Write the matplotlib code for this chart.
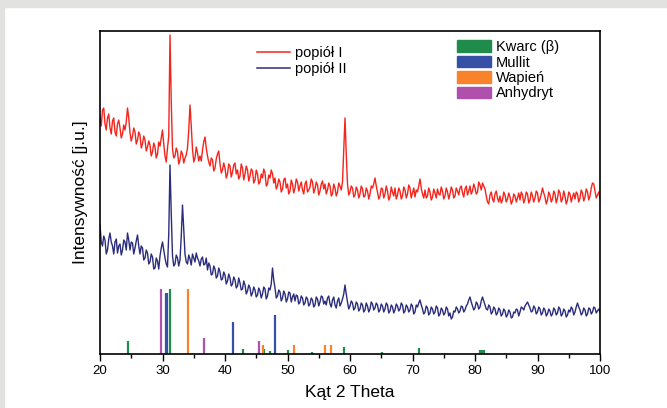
import numpy as np
import matplotlib
matplotlib.use('Agg')
import matplotlib.pyplot as plt
from matplotlib.patches import Patch, Rectangle
from matplotlib.lines import Line2D

plt.rcParams['font.family'] = ['Liberation Sans', 'DejaVu Sans']

# 2 theta grid, 0.2 deg step
two_theta = np.round(np.arange(20.0, 100.001, 0.2), 1)

# popiol I (red) at 20.0, 20.4, ... 100.0 (4 deg per row)
popiol_1_even = [
    238, 244, 230, 236, 226, 233, 222, 230, 226, 220,
    224, 246, 221, 218, 222, 214, 219, 210, 214, 207,
    209, 202, 207, 200, 208, 224, 198, 206, 319, 205,
    198, 202, 194, 200, 196, 206, 249, 205, 196, 201,
    198, 204, 217, 198, 188, 194, 186, 200, 190, 184,
    186, 180, 188, 182, 191, 184, 178, 186, 180, 184,
    178, 183, 174, 180, 172, 176, 181, 170, 176, 180,
    176, 168, 172, 165, 176, 170, 163, 170, 166, 172,
    168, 164, 170, 162, 167, 172, 165, 169, 163, 173,
    170, 164, 168, 160, 166, 162, 168, 172, 236, 170,
    162, 166, 159, 164, 160, 165, 158, 163, 160, 166,
    176, 162, 158, 165, 160, 163, 157, 162, 166, 159,
    163, 158, 164, 160, 166, 161, 157, 162, 175, 160,
    164, 158, 162, 157, 161, 165, 159, 163, 158, 162,
    160, 164, 158, 163, 166, 161, 165, 159, 168, 163,
    166, 162, 169, 171, 165, 152, 159, 155, 160, 156,
    158, 154, 159, 155, 157, 153, 158, 156, 154, 159,
    155, 160, 154, 158, 156, 161, 155, 166, 157, 154,
    159, 155, 160, 156, 161, 155, 158, 154, 160, 157,
    155, 160, 156, 161, 157, 162, 158, 171, 163, 159,
    156,
]
# popiol I at 20.2, 20.6, ... 99.8
popiol_1_odd = [
    228, 246, 224, 240, 220, 236, 218, 234, 216, 229,
    232, 236, 213, 226, 210, 222, 206, 218, 203, 213,
    198, 211, 196, 212, 216, 210, 192, 218, 252, 196,
    206, 190, 203, 191, 199, 224, 228, 192, 207, 193,
    193, 212, 206, 192, 196, 183, 195, 203, 181, 191,
    176, 190, 177, 189, 180, 175, 190, 174, 188, 173,
    185, 171, 184, 170, 180, 185, 168, 179, 184, 171,
    165, 175, 162, 174, 166, 160, 174, 161, 175, 163,
    172, 160, 173, 164, 175, 161, 172, 159, 170, 165,
    160, 171, 158, 170, 158, 171, 164, 205, 200, 159,
    168, 157, 167, 156, 168, 157, 166, 155, 168, 170,
    168, 155, 166, 156, 168, 154, 167, 158, 155, 166,
    155, 167, 156, 169, 156, 166, 164, 168, 166, 156,
    156, 166, 154, 165, 156, 160, 167, 155, 166, 155,
    167, 156, 166, 159, 168, 157, 168, 163, 160, 170,
    160, 172, 164, 168, 158, 150, 162, 152, 163, 152,
    151, 162, 152, 161, 150, 160, 152, 161, 162, 151,
    162, 151, 162, 152, 163, 152, 160, 161, 150, 162,
    152, 163, 151, 164, 152, 163, 150, 162, 152, 161,
    162, 152, 164, 153, 165, 154, 166, 170, 156, 162,
]

# popiol II (navy) at 20.0, 20.4, ... 100.0
popiol_2_even = [
    129, 108, 114, 104, 121, 108, 112, 101, 110, 104,
    112, 121, 104, 111, 106, 119, 100, 106, 96, 101,
    92, 97, 86, 93, 98, 112, 96, 87, 189, 98,
    90, 96, 94, 149, 100, 90, 95, 100, 92, 96,
    88, 97, 90, 84, 88, 80, 85, 78, 82, 75,
    79, 73, 76, 70, 74, 68, 71, 65, 69, 63,
    66, 61, 64, 59, 63, 60, 65, 58, 64, 86,
    66, 58, 62, 56, 60, 55, 61, 57, 53, 58,
    52, 56, 51, 55, 50, 54, 49, 55, 52, 57,
    53, 56, 50, 54, 49, 53, 48, 55, 69, 52,
    48, 51, 46, 50, 45, 49, 44, 48, 45, 50,
    46, 49, 44, 48, 45, 49, 43, 47, 44, 48,
    45, 49, 43, 47, 44, 48, 42, 47, 54, 45,
    42, 46, 41, 45, 42, 46, 40, 44, 41, 45,
    41, 37, 42, 45, 43, 47, 44, 50, 57, 48,
    46, 50, 47, 57, 49, 44, 47, 42, 45, 41,
    44, 40, 43, 39, 42, 37, 41, 44, 42, 46,
    48, 52, 46, 43, 46, 42, 45, 41, 44, 40,
    43, 40, 44, 41, 45, 40, 43, 39, 42, 45,
    42, 51, 44, 41, 44, 40, 45, 42, 46, 43,
    42,
]
# popiol II at 20.2, 20.6, ... 99.8
popiol_2_odd = [
    112, 118, 100, 115, 112, 100, 115, 108, 99, 114,
    104, 114, 112, 100, 113, 108, 108, 94, 104, 90,
    100, 85, 96, 85, 106, 104, 90, 120, 140, 88,
    99, 88, 118, 125, 92, 99, 89, 96, 101, 93,
    95, 89, 96, 91, 79, 88, 76, 86, 74, 82,
    70, 80, 68, 77, 66, 76, 64, 73, 60, 69,
    58, 67, 57, 66, 56, 67, 55, 66, 70, 74,
    56, 64, 53, 63, 52, 62, 52, 60, 59, 50,
    58, 49, 57, 48, 56, 47, 57, 48, 58, 50,
    49, 58, 47, 57, 46, 56, 51, 60, 60, 45,
    53, 44, 52, 43, 51, 42, 51, 42, 52, 44,
    51, 42, 50, 42, 51, 41, 49, 41, 50, 43,
    51, 41, 49, 42, 50, 40, 49, 51, 49, 40,
    48, 39, 47, 40, 48, 38, 46, 39, 47, 38,
    35, 43, 47, 41, 48, 42, 48, 54, 52, 44,
    52, 45, 53, 53, 45, 49, 40, 47, 39, 46,
    38, 45, 37, 44, 36, 42, 45, 38, 47, 44,
    50, 49, 42, 48, 40, 47, 39, 46, 38, 45,
    38, 46, 39, 47, 38, 45, 37, 44, 47, 39,
    47, 47, 39, 46, 38, 46, 40, 47, 41, 45,
]

# reference phases (stick patterns)
kwarc_pos = [24.4, 31.2, 42.9, 46.3, 47.2, 50.0, 53.9, 59.1, 65.1, 71.1, 80.8, 81.1, 81.5]
kwarc_int = [13, 65, 5, 5, 3, 4, 2, 7, 2, 6, 4, 4, 4]
mullit_pos = [30.5, 30.7, 41.3, 48.0]
mullit_int = [61, 61, 32, 39]
wapien_pos = [34.1, 46.0, 51.1, 56.0, 57.0]
wapien_int = [65, 9, 9, 9, 9]
anhydryt_pos = [29.8, 36.7, 45.4]
anhydryt_int = [65, 16, 13]

popiol_1 = np.empty(len(two_theta))
popiol_1[0::2] = popiol_1_even
popiol_1[1::2] = popiol_1_odd
popiol_2 = np.empty(len(two_theta))
popiol_2[0::2] = popiol_2_even
popiol_2[1::2] = popiol_2_odd

red = '#f5241c'
navy = '#2b2c7c'
c_kwarc = '#1f8c4c'
c_mullit = '#3650a5'
c_wapien = '#f9832a'
c_anhydryt = '#b050ad'

fig = plt.figure(figsize=(6.67, 4.08), dpi=100)
# grey frame of the original screenshot
fig.patches.append(Rectangle((0, 1 - 7 / 408), 1, 7 / 408, transform=fig.transFigure,
                             color='#e2e2e0', zorder=0))
fig.patches.append(Rectangle((0, 0), 4 / 667, 1, transform=fig.transFigure,
                             color='#e2e2e0', zorder=0))

ax = fig.add_axes([100 / 667, 54 / 408, 500 / 667, 323 / 408])

ax.plot(two_theta, popiol_1, color=red, lw=1.0)
ax.plot(two_theta, popiol_2, color=navy, lw=1.0)

ax.vlines(kwarc_pos, 0, kwarc_int, color=c_kwarc, lw=1.6)
ax.vlines(mullit_pos, 0, mullit_int, color=c_mullit, lw=1.6)
ax.vlines(wapien_pos, 0, wapien_int, color=c_wapien, lw=1.6)
ax.vlines(anhydryt_pos, 0, anhydryt_int, color=c_anhydryt, lw=1.6)

ax.set_xlim(20, 100)
ax.set_ylim(0, 323)
ax.set_xticks(range(20, 101, 10))
ax.set_xticks(range(25, 100, 10), minor=True)
ax.set_yticks([])
ax.tick_params(axis='x', which='major', length=5, width=1, labelsize=9.5, pad=3)
ax.tick_params(axis='x', which='minor', length=3, width=1)
for s in ax.spines.values():
    s.set_linewidth(1.2)

ax.set_xlabel('Kąt 2 Theta', fontsize=12.5, labelpad=6)
ax.set_ylabel('Intensywność [j.u.]', fontsize=12.5, labelpad=9)

line_handles = [Line2D([], [], color=red, lw=1.1), Line2D([], [], color=navy, lw=1.1)]
leg1 = ax.legend(line_handles, ['popiół I', 'popiół II'], loc='upper left',
                 bbox_to_anchor=(0.314, 0.954), frameon=False, fontsize=10.5,
                 handlelength=2.26, handletextpad=0.34, labelspacing=0.15,
                 borderpad=0, borderaxespad=0)
ax.add_artist(leg1)

patch_handles = [Patch(color=c_kwarc), Patch(color=c_mullit),
                 Patch(color=c_wapien), Patch(color=c_anhydryt)]
ax.legend(patch_handles, ['Kwarc (β)', 'Mullit', 'Wapień', 'Anhydryt'], loc='upper left',
          bbox_to_anchor=(0.714, 0.972), frameon=False, fontsize=10.5,
          handlelength=2.33, handleheight=0.86, handletextpad=0.34, labelspacing=0.1,
          borderpad=0, borderaxespad=0)

fig.savefig('out.png', dpi=100)
